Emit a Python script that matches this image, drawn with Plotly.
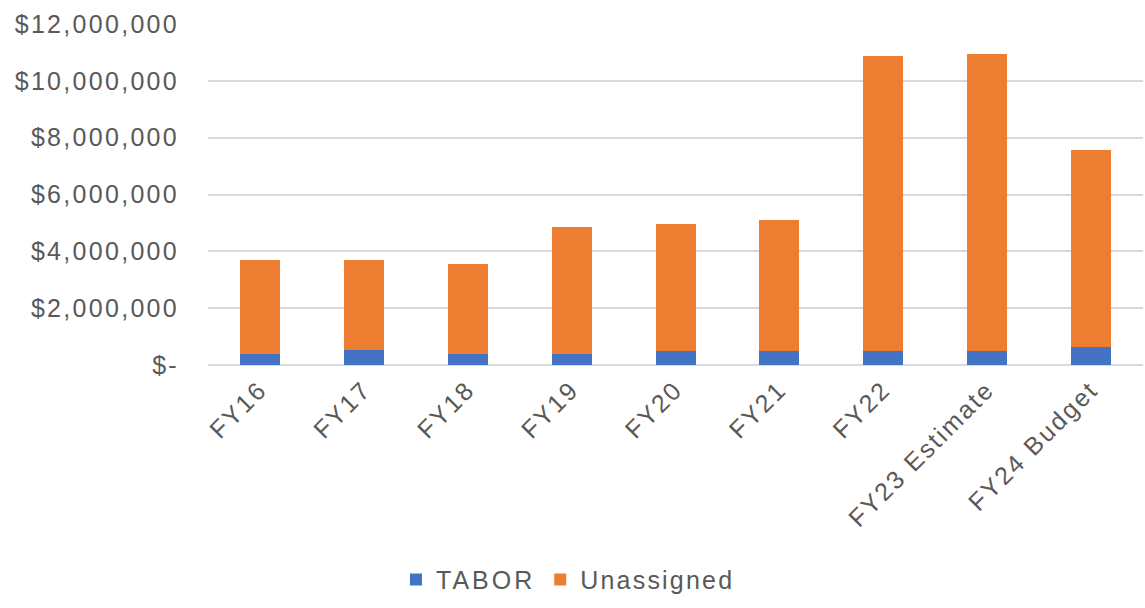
import plotly.graph_objects as go

# Fund balance by fiscal year, split into TABOR reserve and unassigned balance
categories = ["FY16", "FY17", "FY18", "FY19", "FY20", "FY21", "FY22",
              "FY23 Estimate", "FY24 Budget"]
tabor = [400000, 530000, 400000, 400000, 510000, 510000, 510000, 510000, 630000]
totals = [3690000, 3690000, 3570000, 4860000, 4970000, 5090000, 10860000,
          10960000, 7580000]
unassigned = [t - a for t, a in zip(totals, tabor)]

tick_values = [0, 2000000, 4000000, 6000000, 8000000, 10000000, 12000000]
tick_labels = ["$-", "$2,000,000", "$4,000,000", "$6,000,000", "$8,000,000",
               "$10,000,000", "$12,000,000"]

text_color = "#595959"
grid_color = "#D9D9D9"
font_family = "Liberation Sans, Arial, sans-serif"


def spaced(s, px=2.3):
    """Wrap label text in a span with a little extra tracking."""
    return f'<span style="letter-spacing:{px}px">{s}</span>'


fig = go.Figure()
fig.add_trace(go.Bar(x=categories, y=tabor, name=spaced("TABOR", 3.0),
                     marker=dict(color="#4472C4", line=dict(width=0))))
fig.add_trace(go.Bar(x=categories, y=unassigned, name=spaced("Unassigned", 2.2),
                     marker=dict(color="#ED7D31", line=dict(width=0))))

fig.update_layout(
    width=1145, height=608,
    barmode="stack", bargap=0.615,
    paper_bgcolor="white", plot_bgcolor="white",
    margin=dict(l=208, r=2, t=24, b=243, autoexpand=False),
    font=dict(family=font_family, size=25, color=text_color),
    showlegend=True,
    legend=dict(orientation="h", x=0.385, xanchor="center", y=-0.63,
                yanchor="middle", traceorder="normal",
                font=dict(size=25, color=text_color), itemwidth=30),
)
fig.update_yaxes(range=[0, 12000000], tickvals=tick_values,
                 ticktext=[spaced(t) for t in tick_labels],
                 showgrid=True, gridcolor=grid_color, gridwidth=1.5,
                 zeroline=True, zerolinecolor=grid_color, zerolinewidth=1.5,
                 showline=False, ticks="", ticklabelstandoff=28)
fig.update_xaxes(tickmode="array", tickvals=categories,
                 ticktext=[spaced(c) for c in categories],
                 tickangle=-45, showgrid=False, showline=False, ticks="",
                 ticklabelstandoff=4)

fig.write_html("out.html")
